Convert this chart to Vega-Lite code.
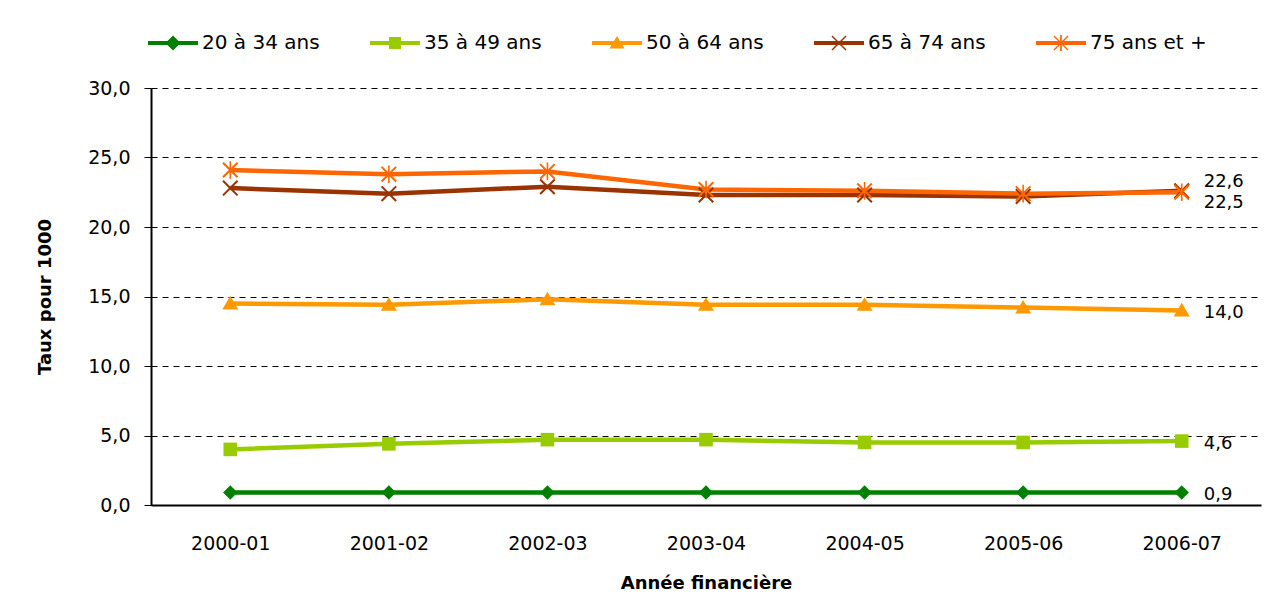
{
  "$schema": "https://vega.github.io/schema/vega-lite/v6.json",
  "width": 1110,
  "height": 417,
  "autosize": "none",
  "padding": {"left": 151, "top": 88, "right": 27, "bottom": 97},
  "background": "white",
  "config": {
    "font": "DejaVu Sans",
    "locale": {"number": {"decimal": ",", "thousands": "\u00a0", "grouping": [3], "currency": ["", "\u00a0€"]}},
    "view": {"stroke": null},
    "axis": {"labelColor": "black", "titleColor": "black", "labelFont": "DejaVu Sans", "titleFont": "DejaVu Sans"}
  },
  "data": {
    "values": [
      {"groupe": "20 à 34 ans", "annee": "2000-01", "taux": 0.9},
      {"groupe": "20 à 34 ans", "annee": "2001-02", "taux": 0.9},
      {"groupe": "20 à 34 ans", "annee": "2002-03", "taux": 0.9},
      {"groupe": "20 à 34 ans", "annee": "2003-04", "taux": 0.9},
      {"groupe": "20 à 34 ans", "annee": "2004-05", "taux": 0.9},
      {"groupe": "20 à 34 ans", "annee": "2005-06", "taux": 0.9},
      {"groupe": "20 à 34 ans", "annee": "2006-07", "taux": 0.9},
      {"groupe": "35 à 49 ans", "annee": "2000-01", "taux": 4.0},
      {"groupe": "35 à 49 ans", "annee": "2001-02", "taux": 4.4},
      {"groupe": "35 à 49 ans", "annee": "2002-03", "taux": 4.7},
      {"groupe": "35 à 49 ans", "annee": "2003-04", "taux": 4.7},
      {"groupe": "35 à 49 ans", "annee": "2004-05", "taux": 4.5},
      {"groupe": "35 à 49 ans", "annee": "2005-06", "taux": 4.5},
      {"groupe": "35 à 49 ans", "annee": "2006-07", "taux": 4.6},
      {"groupe": "50 à 64 ans", "annee": "2000-01", "taux": 14.5},
      {"groupe": "50 à 64 ans", "annee": "2001-02", "taux": 14.4},
      {"groupe": "50 à 64 ans", "annee": "2002-03", "taux": 14.8},
      {"groupe": "50 à 64 ans", "annee": "2003-04", "taux": 14.4},
      {"groupe": "50 à 64 ans", "annee": "2004-05", "taux": 14.4},
      {"groupe": "50 à 64 ans", "annee": "2005-06", "taux": 14.2},
      {"groupe": "50 à 64 ans", "annee": "2006-07", "taux": 14.0},
      {"groupe": "65 à 74 ans", "annee": "2000-01", "taux": 22.8},
      {"groupe": "65 à 74 ans", "annee": "2001-02", "taux": 22.4},
      {"groupe": "65 à 74 ans", "annee": "2002-03", "taux": 22.9},
      {"groupe": "65 à 74 ans", "annee": "2003-04", "taux": 22.3},
      {"groupe": "65 à 74 ans", "annee": "2004-05", "taux": 22.3},
      {"groupe": "65 à 74 ans", "annee": "2005-06", "taux": 22.2},
      {"groupe": "65 à 74 ans", "annee": "2006-07", "taux": 22.6},
      {"groupe": "75 ans et +", "annee": "2000-01", "taux": 24.1},
      {"groupe": "75 ans et +", "annee": "2001-02", "taux": 23.8},
      {"groupe": "75 ans et +", "annee": "2002-03", "taux": 24.0},
      {"groupe": "75 ans et +", "annee": "2003-04", "taux": 22.7},
      {"groupe": "75 ans et +", "annee": "2004-05", "taux": 22.6},
      {"groupe": "75 ans et +", "annee": "2005-06", "taux": 22.4},
      {"groupe": "75 ans et +", "annee": "2006-07", "taux": 22.5}
    ]
  },
  "encoding": {
    "x": {
      "field": "annee",
      "type": "ordinal",
      "sort": null,
      "scale": {"type": "point", "padding": 0.5},
      "axis": {
        "title": "Année financière",
        "titleFontSize": 18,
        "titleFontWeight": "bold",
        "titlePadding": 21,
        "labelFontSize": 19,
        "labelAngle": 0,
        "labelPadding": 29,
        "ticks": false,
        "tickSize": 0,
        "domainColor": "black",
        "domainWidth": 2,
        "grid": false
      }
    },
    "y": {
      "field": "taux",
      "type": "quantitative",
      "scale": {"domain": [0, 30]},
      "axis": {
        "title": "Taux pour 1000",
        "titleFontSize": 18,
        "titleFontWeight": "bold",
        "titlePadding": 33,
        "values": [0, 5, 10, 15, 20, 25, 30],
        "format": ".1f",
        "labelFontSize": 19,
        "labelPadding": 14,
        "tickSize": 7,
        "tickColor": "black",
        "domainColor": "black",
        "domainWidth": 2,
        "grid": true,
        "gridColor": "black",
        "gridDash": [6, 5],
        "gridWidth": 1
      }
    },
    "color": {
      "field": "groupe",
      "type": "nominal",
      "scale": {
        "domain": ["20 à 34 ans", "35 à 49 ans", "50 à 64 ans", "65 à 74 ans", "75 ans et +"],
        "range": ["#008000", "#99CC00", "#FF9900", "#993300", "#FF6600"]
      },
      "legend": {
        "title": null,
        "orient": "none",
        "legendX": -3,
        "legendY": -70,
        "direction": "horizontal",
        "columns": 5,
        "gridAlign": "all",
        "columnPadding": 50,
        "padding": 0,
        "symbolSize": 2500,
        "labelFontSize": 20,
        "labelFont": "DejaVu Sans",
        "labelColor": "black",
        "labelOffset": 4,
        "labelLimit": 300,
        "encode": {
          "symbols": {
            "update": {
              "shape": {"signal": "datum.value === '20 à 34 ans' ? 'M-1,-0.08V0.08H1V-0.08Z M0,-0.3L-0.3,0L0,0.3L0.3,0Z' : datum.value === '35 à 49 ans' ? 'M-1,-0.08V0.08H1V-0.08Z M-0.24,-0.24V0.24H0.24V-0.24Z' : datum.value === '50 à 64 ans' ? 'M-1,-0.08V0.08H1V-0.08Z M0,-0.28L-0.3,0.22H0.3Z' : datum.value === '65 à 74 ans' ? 'M-1,-0.08V0.08H1V-0.08Z M-0.3,-0.26L0.26,0.3L0.3,0.26L-0.26,-0.3Z M-0.26,0.3L0.3,-0.26L0.26,-0.3L-0.3,0.26Z' : 'M-1,-0.08V0.08H1V-0.08Z M-0.3,-0.26L0.26,0.3L0.3,0.26L-0.26,-0.3Z M-0.26,0.3L0.3,-0.26L0.26,-0.3L-0.3,0.26Z M-0.035,-0.32V0.32H0.035V-0.32Z'"},
              "fill": {"signal": "scale('color', datum.value)"},
              "stroke": {"value": "transparent"},
              "strokeWidth": {"value": 0},
              "opacity": {"value": 1}
            }
          }
        }
      }
    }
  },
  "layer": [
    {
      "mark": {"type": "line", "strokeWidth": 4.5}
    },
    {
      "transform": [{"filter": "datum.groupe === '20 à 34 ans'"}],
      "mark": {"type": "point", "filled": true, "opacity": 1, "size": 256, "shape": "M0,-0.9L-0.9,0L0,0.9L0.9,0Z"}
    },
    {
      "transform": [{"filter": "datum.groupe === '35 à 49 ans'"}],
      "mark": {"type": "point", "filled": true, "opacity": 1, "size": 256, "shape": "M-0.85,-0.85V0.85H0.85V-0.85Z"}
    },
    {
      "transform": [{"filter": "datum.groupe === '50 à 64 ans'"}],
      "mark": {"type": "point", "filled": true, "opacity": 1, "size": 256, "shape": "M0,-0.95L-1,0.75H1Z"}
    },
    {
      "transform": [{"filter": "datum.groupe === '65 à 74 ans'"}],
      "mark": {"type": "point", "filled": true, "opacity": 1, "size": 256, "shape": "M-1,-0.82L0.82,1L1,0.82L-0.82,-1Z M-0.82,1L1,-0.82L0.82,-1L-1,0.82Z"}
    },
    {
      "transform": [{"filter": "datum.groupe === '75 ans et +'"}],
      "mark": {"type": "point", "filled": true, "opacity": 1, "size": 256, "shape": "M-1,-0.82L0.82,1L1,0.82L-0.82,-1Z M-0.82,1L1,-0.82L0.82,-1L-1,0.82Z M-0.1,-1.1V1.1H0.1V-1.1Z"}
    },
    {
      "transform": [{"filter": "datum.annee === '2006-07' && datum.groupe !== '65 à 74 ans' && datum.groupe !== '75 ans et +'"}],
      "mark": {"type": "text", "align": "left", "baseline": "middle", "dx": 22, "dy": 3, "fontSize": 18},
      "encoding": {"text": {"field": "taux", "type": "quantitative", "format": ".1f"}, "color": {"value": "black"}}
    },
    {
      "transform": [{"filter": "datum.annee === '2006-07' && datum.groupe === '65 à 74 ans'"}],
      "mark": {"type": "text", "align": "left", "baseline": "middle", "dx": 22, "dy": -9, "fontSize": 18},
      "encoding": {"text": {"field": "taux", "type": "quantitative", "format": ".1f"}, "color": {"value": "black"}}
    },
    {
      "transform": [{"filter": "datum.annee === '2006-07' && datum.groupe === '75 ans et +'"}],
      "mark": {"type": "text", "align": "left", "baseline": "middle", "dx": 22, "dy": 11, "fontSize": 18},
      "encoding": {"text": {"field": "taux", "type": "quantitative", "format": ".1f"}, "color": {"value": "black"}}
    }
  ]
}
